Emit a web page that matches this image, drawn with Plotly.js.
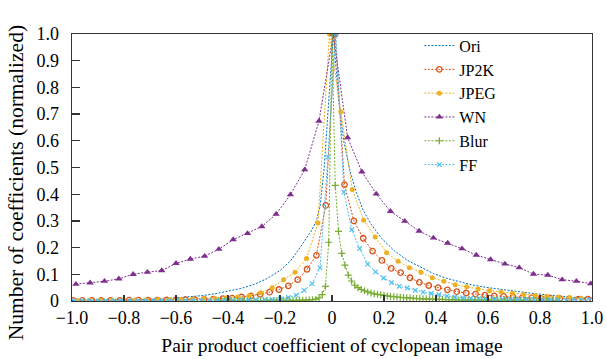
<!DOCTYPE html>
<html>
<head>
<meta charset="utf-8">
<script src="https://cdn.plot.ly/plotly-3.0.1.min.js"></script>
<style>html,body{margin:0;padding:0;background:#fff;}#chart{width:607px;height:359px;}</style>
</head>
<body>
<div id="chart"></div>
<script>
// ---- data ----
const oriX = [-1, -0.9, -0.8, -0.7, -0.6, -0.5, -0.45, -0.4, -0.35, -0.3, -0.25, -0.2, -0.16, -0.13, -0.1, -0.08, -0.06, -0.045, -0.03, -0.015, 0.005, 0.025, 0.045, 0.07, 0.095, 0.12, 0.15, 0.19, 0.24, 0.29, 0.34, 0.39, 0.44, 0.49, 0.54, 0.6, 0.65, 0.7, 0.775, 0.85, 0.925, 1.0];
const oriY = [0.002, 0.003, 0.004, 0.006, 0.012, 0.020, 0.027, 0.036, 0.047, 0.062, 0.084, 0.114, 0.150, 0.190, 0.232, 0.262, 0.300, 0.36, 0.50, 0.72, 1.0, 0.76, 0.60, 0.485, 0.402, 0.340, 0.288, 0.235, 0.188, 0.152, 0.127, 0.103, 0.085, 0.072, 0.060, 0.050, 0.043, 0.037, 0.028, 0.021, 0.014, 0.011];

const jp2kX = [-0.996, -0.960, -0.924, -0.888, -0.852, -0.816, -0.780, -0.744, -0.708, -0.672, -0.636, -0.600, -0.564, -0.528, -0.492, -0.456, -0.420, -0.384, -0.348, -0.312, -0.276, -0.240, -0.204, -0.168, -0.132, -0.096, -0.060, -0.024, 0.012, 0.048, 0.084, 0.120, 0.156, 0.192, 0.228, 0.264, 0.300, 0.336, 0.372, 0.408, 0.444, 0.480, 0.516, 0.552, 0.588, 0.624, 0.660, 0.696, 0.732, 0.768, 0.804, 0.840, 0.876, 0.912, 0.948, 0.984];
const jp2kY = [0.002, 0.002, 0.002, 0.002, 0.002, 0.002, 0.003, 0.003, 0.003, 0.003, 0.004, 0.004, 0.005, 0.005, 0.006, 0.007, 0.009, 0.011, 0.015, 0.019, 0.025, 0.033, 0.043, 0.057, 0.080, 0.119, 0.171, 0.358, 1.0, 0.436, 0.300, 0.235, 0.187, 0.152, 0.122, 0.106, 0.087, 0.070, 0.058, 0.050, 0.042, 0.035, 0.030, 0.026, 0.022, 0.019, 0.017, 0.015, 0.013, 0.012, 0.010, 0.010, 0.009, 0.008, 0.007, 0.007];

const jpegX = [-0.978, -0.934, -0.890, -0.846, -0.802, -0.758, -0.714, -0.670, -0.626, -0.582, -0.538, -0.494, -0.450, -0.406, -0.362, -0.318, -0.274, -0.230, -0.186, -0.142, -0.098, -0.054, -0.010, 0.034, 0.078, 0.122, 0.166, 0.210, 0.254, 0.298, 0.342, 0.386, 0.430, 0.474, 0.518, 0.562, 0.606, 0.650, 0.694, 0.738, 0.782, 0.826, 0.870, 0.914, 0.958];
const jpegY = [0.002, 0.003, 0.003, 0.003, 0.003, 0.004, 0.004, 0.005, 0.005, 0.006, 0.007, 0.008, 0.009, 0.012, 0.015, 0.020, 0.031, 0.050, 0.080, 0.108, 0.159, 0.292, 1.0, 0.709, 0.418, 0.302, 0.240, 0.181, 0.149, 0.125, 0.108, 0.087, 0.074, 0.061, 0.053, 0.045, 0.038, 0.034, 0.029, 0.024, 0.021, 0.018, 0.015, 0.013, 0.010];

const wnX = [-0.985, -0.93, -0.875, -0.82, -0.765, -0.71, -0.655, -0.6, -0.545, -0.49, -0.435, -0.38, -0.325, -0.27, -0.215, -0.16, -0.105, -0.05, 0.005, 0.06, 0.115, 0.17, 0.225, 0.28, 0.335, 0.39, 0.445, 0.5, 0.555, 0.61, 0.665, 0.72, 0.775, 0.83, 0.885, 0.94, 0.995];
const wnY = [0.063, 0.068, 0.074, 0.083, 0.100, 0.108, 0.114, 0.141, 0.157, 0.168, 0.194, 0.230, 0.253, 0.279, 0.325, 0.398, 0.492, 0.674, 1.0, 0.612, 0.484, 0.401, 0.336, 0.299, 0.262, 0.236, 0.217, 0.196, 0.172, 0.155, 0.139, 0.125, 0.101, 0.097, 0.080, 0.074, 0.065];

const blurX = [-0.4375, -0.425, -0.4125, -0.4, -0.3875, -0.375, -0.3625, -0.35, -0.3375, -0.325, -0.3125, -0.3, -0.2875, -0.275, -0.2625, -0.25, -0.2375, -0.225, -0.2125, -0.2, -0.1875, -0.175, -0.1625, -0.15, -0.1375, -0.125, -0.1125, -0.1, -0.0875, -0.075, -0.0625, -0.05, -0.0375, -0.025, -0.0125, 0, 0.0125, 0.025, 0.0375, 0.05, 0.0625, 0.075, 0.0875, 0.1, 0.1125, 0.125, 0.1375, 0.15, 0.1625, 0.175, 0.1875, 0.2, 0.2125, 0.225, 0.2375, 0.25, 0.2625, 0.275, 0.2875, 0.3, 0.3125, 0.325, 0.3375, 0.35, 0.3625, 0.375, 0.3875, 0.4, 0.4125, 0.425, 0.4375, 0.45, 0.4625, 0.475, 0.4875, 0.5, 0.5125, 0.525, 0.5375, 0.55, 0.5625, 0.575, 0.5875, 0.6, 0.6125, 0.625, 0.6375, 0.65, 0.6625, 0.675, 0.6875, 0.7, 0.7125, 0.725, 0.7375, 0.75, 0.7625, 0.775, 0.7875, 0.8, 0.8125, 0.825, 0.8375, 0.85, 0.8625, 0.875];
const blurY = [0.001, 0.001, 0.001, 0.001, 0.001, 0.001, 0.001, 0.001, 0.001, 0.001, 0.001, 0.001, 0.001, 0.001, 0.001, 0.002, 0.002, 0.002, 0.002, 0.002, 0.002, 0.002, 0.002, 0.002, 0.002, 0.003, 0.003, 0.003, 0.004, 0.005, 0.007, 0.012, 0.024, 0.055, 0.22, 1.0, 0.433, 0.261, 0.178, 0.134, 0.097, 0.075, 0.059, 0.050, 0.043, 0.038, 0.034, 0.030, 0.027, 0.025, 0.023, 0.021, 0.019, 0.017, 0.016, 0.015, 0.014, 0.013, 0.012, 0.011, 0.010, 0.009, 0.009, 0.008, 0.008, 0.007, 0.007, 0.006, 0.006, 0.006, 0.005, 0.005, 0.005, 0.004, 0.004, 0.004, 0.003, 0.003, 0.003, 0.003, 0.003, 0.003, 0.003, 0.003, 0.003, 0.003, 0.002, 0.002, 0.002, 0.002, 0.002, 0.002, 0.002, 0.002, 0.002, 0.002, 0.001, 0.001, 0.001, 0.001, 0.001, 0.001, 0.001, 0.001, 0.001, 0.001];

const ffX = [-0.9915, -0.961, -0.9305, -0.900, -0.8695, -0.839, -0.8085, -0.778, -0.7475, -0.717, -0.6865, -0.656, -0.6255, -0.595, -0.5645, -0.534, -0.5035, -0.473, -0.4425, -0.412, -0.3815, -0.351, -0.3205, -0.290, -0.2595, -0.229, -0.1985, -0.168, -0.1375, -0.107, -0.0765, -0.046, -0.0155, 0.015, 0.0455, 0.076, 0.1065, 0.137, 0.1675, 0.198, 0.2285, 0.259, 0.2895, 0.320, 0.3505, 0.381, 0.4115, 0.442, 0.4725, 0.503, 0.5335, 0.564, 0.5945, 0.625, 0.6555, 0.686, 0.7165, 0.747, 0.7775, 0.808, 0.8385, 0.869, 0.8995, 0.930, 0.9605, 0.991];
const ffY = [0.001, 0.001, 0.001, 0.001, 0.001, 0.001, 0.001, 0.001, 0.001, 0.001, 0.001, 0.001, 0.001, 0.002, 0.002, 0.002, 0.002, 0.002, 0.002, 0.002, 0.003, 0.003, 0.003, 0.003, 0.004, 0.005, 0.008, 0.013, 0.022, 0.040, 0.065, 0.125, 0.54, 1.0, 0.408, 0.267, 0.196, 0.138, 0.109, 0.086, 0.069, 0.055, 0.049, 0.040, 0.033, 0.028, 0.024, 0.018, 0.015, 0.012, 0.010, 0.009, 0.008, 0.007, 0.007, 0.006, 0.006, 0.005, 0.005, 0.004, 0.004, 0.004, 0.003, 0.003, 0.003, 0.003];

const seriesNames = ['Ori', 'JP2K', 'JPEG', 'WN', 'Blur', 'FF'];
const xTickVals = [-1, -0.8, -0.6, -0.4, -0.2, 0, 0.2, 0.4, 0.6, 0.8, 1];
const xTickText = ['\u22121.0', '\u22120.8', '\u22120.6', '\u22120.4', '\u22120.2', '0', '0.2', '0.4', '0.6', '0.8', '1.0'];
const yTickVals = [0, 0.1, 0.2, 0.3, 0.4, 0.5, 0.6, 0.7, 0.8, 0.9, 1.0];
const yTickText = ['0', '0.1', '0.2', '0.3', '0.4', '0.5', '0.6', '0.7', '0.8', '0.9', '1.0'];
const xTitle = 'Pair product coefficient of cyclopean image';
const yTitle = 'Number of coefficients (normalized)';

// ---- styles ----
const colors = ['#0072BD', '#D95319', '#EDB120', '#7E2F8E', '#77AC30', '#4DBEEE'];
const dashStyle = '2px,1.5px';
const FONT = '"Liberation Serif", "DejaVu Serif", serif';
const TXT = '#000';

function tr(i, x, y, marker, mode) {
  return {
    type: 'scatter', mode: mode, name: seriesNames[i], x: x, y: y,
    line: {color: colors[i], width: 1, dash: dashStyle},
    marker: marker, cliponaxis: true
  };
}

const data = [
  tr(0, oriX, oriY, {}, 'lines'),
  tr(1, jp2kX, jp2kY, {symbol: 'circle-open', size: 5.5, color: colors[1], line: {width: 1.3, color: colors[1]}}, 'lines+markers'),
  tr(2, jpegX, jpegY, {symbol: 'circle', size: 5, color: colors[2]}, 'lines+markers'),
  tr(3, wnX, wnY, {symbol: 'triangle-up', size: 6.5, color: colors[3]}, 'lines+markers'),
  tr(4, blurX, blurY, {symbol: 'cross-thin-open', size: 5, color: colors[4], line: {width: 1.2, color: colors[4]}}, 'lines+markers'),
  tr(5, ffX, ffY, {symbol: 'x-thin-open', size: 4.5, color: colors[5], line: {width: 1.2, color: colors[5]}}, 'lines+markers')
];

const axisCommon = {
  showline: true, mirror: true, linecolor: '#333', linewidth: 1.3,
  showgrid: false, zeroline: false,
  ticks: 'inside', tickcolor: '#333', tickwidth: 1.3,
  tickfont: {family: FONT, size: 18, color: TXT}
};

const layout = {
  width: 607, height: 359,
  margin: {l: 72, r: 15, t: 34, b: 58},
  paper_bgcolor: '#fff', plot_bgcolor: '#fff',
  font: {family: FONT, color: TXT},
  showlegend: true,
  legend: {
    x: 0.668, y: 1.02, xanchor: 'left', yanchor: 'top',
    bgcolor: 'rgba(0,0,0,0)', borderwidth: 0,
    font: {family: FONT, size: 16, color: TXT},
    tracegroupgap: 0
  },
  xaxis: Object.assign({}, axisCommon, {
    range: [-1, 1], tickmode: 'array', tickvals: xTickVals, ticktext: xTickText,
    ticklen: 6, ticklabelstandoff: 0,
    title: {text: xTitle, font: {family: FONT, size: 19.5, color: TXT}, standoff: 11}
  }),
  yaxis: Object.assign({}, axisCommon, {
    range: [0, 1], tickmode: 'array', tickvals: yTickVals, ticktext: yTickText,
    ticklen: 8, ticklabelstandoff: 8
  }),
  annotations: [{
    text: yTitle, xref: 'paper', yref: 'paper', x: -0.106, y: 0.444,
    xanchor: 'center', yanchor: 'middle', textangle: -90, showarrow: false,
    font: {family: FONT, size: 21.5, color: TXT}
  }]
};

Plotly.newPlot('chart', data, layout, {displayModeBar: false, staticPlot: true});
</script>
</body>
</html>
